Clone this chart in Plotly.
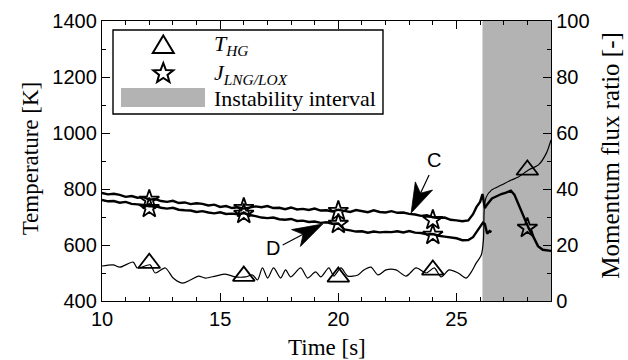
import math
import plotly.graph_objects as go

# ---------------- data ----------------
# Momentum flux ratio, curve C (upper)
t_C = [10.0, 10.25, 10.5, 10.75, 11.0, 11.25, 11.5, 11.75, 12.0, 12.25, 12.5, 12.75,
       13.0, 13.25, 13.5, 13.75, 14.0, 14.25, 14.5, 14.75, 15.0, 15.25, 15.5, 15.75,
       16.0, 16.25, 16.5, 16.75, 17.0, 17.25, 17.5, 17.75, 18.0, 18.25, 18.5, 18.75,
       19.0, 19.25, 19.5, 19.75, 20.0, 20.25, 20.5, 20.75, 21.0, 21.25, 21.5, 21.75,
       22.0, 22.25, 22.5, 22.75, 23.0, 23.25, 23.5, 23.75, 24.0, 24.25, 24.5, 24.75,
       25.0, 25.25, 25.5, 25.7, 25.85, 26.0, 26.1, 26.15, 26.2, 26.3, 26.5, 26.7,
       26.9, 27.1, 27.3, 27.45, 27.6, 27.75, 27.9, 28.05, 28.25, 28.45, 28.65, 28.85, 29.0]
J_C = [38.6, 38.1, 38.3, 37.9, 37.2, 37.5, 36.9, 37.1, 36.2, 36.4, 35.7, 35.4,
       35.8, 35.0, 35.2, 34.6, 34.9, 34.7, 34.1, 34.4, 33.6, 33.9, 33.2, 33.5,
       33.0, 33.3, 33.8, 33.5, 33.9, 33.2, 33.3, 32.8, 33.4, 32.7, 32.9, 32.5,
       33.0, 32.3, 32.4, 32.0, 32.6, 32.2, 31.8, 32.5, 32.0, 31.7, 32.4, 31.8,
       31.6, 32.1, 31.5, 31.6, 31.1, 30.9, 30.4, 30.6, 29.9, 29.6, 29.8, 29.0,
       28.8, 28.5, 28.8, 31.0, 33.6, 35.4, 38.2, 36.0, 33.2, 34.5, 36.6, 37.4,
       38.2, 38.7, 39.4, 38.0, 35.0, 31.5, 28.6, 26.1, 23.0, 19.6, 18.3, 18.0, 17.9]

# Momentum flux ratio, curve D (lower)
t_D = [10.0, 10.25, 10.5, 10.75, 11.0, 11.25, 11.5, 11.75, 12.0, 12.25, 12.5, 12.75,
       13.0, 13.25, 13.5, 13.75, 14.0, 14.25, 14.5, 14.75, 15.0, 15.25, 15.5, 15.75,
       16.0, 16.25, 16.5, 16.75, 17.0, 17.25, 17.5, 17.75, 18.0, 18.25, 18.5, 18.75,
       19.0, 19.25, 19.5, 19.75, 20.0, 20.25, 20.5, 20.75, 21.0, 21.25, 21.5, 21.75,
       22.0, 22.25, 22.5, 22.75, 23.0, 23.25, 23.5, 23.75, 24.0, 24.25, 24.5, 24.75,
       25.0, 25.25, 25.5, 25.7, 25.85, 26.0, 26.12, 26.2, 26.3, 26.4, 26.48]
J_D = [36.1, 35.6, 35.7, 35.1, 35.4, 34.7, 34.5, 34.3, 33.8, 33.9, 33.3, 33.0,
       33.3, 32.6, 32.4, 32.3, 31.8, 32.1, 31.6, 31.3, 31.7, 31.1, 31.2, 31.0,
       31.4, 30.7, 30.3, 29.8, 29.6, 29.8, 29.2, 29.0, 29.3, 28.6, 28.7, 28.2,
       28.4, 27.9, 28.1, 27.6, 27.7, 25.6, 25.2, 24.8, 24.9, 24.4, 24.8, 24.5,
       24.7, 24.6, 24.9, 24.5, 25.0, 24.4, 24.3, 23.8, 23.9, 23.3, 23.0, 22.7,
       22.4, 21.7, 21.8, 22.8, 24.8, 26.5, 28.0, 27.5, 24.0, 25.0, 24.6]

# Hot-gas temperature T_HG [K]
t_T = [10.0, 10.47, 10.76, 11.32, 11.49, 12.04, 12.25, 12.68, 13.01, 13.40, 13.74,
       14.08, 14.37, 14.80, 15.22, 15.65, 16.07, 16.37, 16.58, 16.79, 17.01, 17.26,
       17.56, 17.77, 17.98, 18.41, 18.70, 19.04, 19.26, 19.60, 19.81, 20.11, 20.40,
       20.83, 21.08, 21.38, 21.68, 22.02, 22.44, 22.87, 23.29, 23.72, 24.06, 24.35,
       24.69, 25.07, 25.41, 25.63, 25.84, 26.05, 26.14, 26.18, 26.26, 26.48, 26.90,
       27.32, 27.62, 28.05, 28.47, 28.81, 29.0]
T_HG = [525, 529, 521, 539, 518, 529, 500, 518, 482, 464, 475,
        489, 482, 489, 496, 486, 486, 493, 475, 518, 482, 518,
        482, 511, 486, 518, 482, 504, 486, 518, 489, 518, 489,
        493, 511, 521, 493, 511, 511, 489, 518, 500, 518, 486,
        511, 500, 482, 504, 536, 564, 618, 736, 771, 796, 814,
        832, 843, 868, 886, 929, 975]

# marker samples
tri_t = [12, 16, 20, 24, 28]
tri_T = [535, 489, 486, 511, 868]
starC_t = [12, 16, 20, 24, 28]
starC_J = [36.1, 33.2, 32.1, 28.9, 26.1]
starD_t = [12, 16, 20, 24]
starD_J = [33.2, 31.1, 27.5, 23.6]

instab_start, instab_end = 26.1, 29.0

x_ticks = [10, 15, 20, 25]
yT_ticks = [400, 600, 800, 1000, 1200, 1400]
yJ_ticks = [0, 20, 40, 60, 80, 100]

labels = {
    "x": "Time [s]",
    "yT": "Temperature [K]",
    "yJ": "Momentum flux ratio [-]",
    "leg_T": "<i>T</i><sub><i>HG</i></sub>",
    "leg_J": "<i>J</i><sub><i>LNG/LOX</i></sub>",
    "leg_I": "Instability interval",
}
annot_C = dict(text="C", t=24.06, J=50.4, tip_t=23.08, tip_J=31.4)
annot_D = dict(text="D", t=17.22, J=18.9, tip_t=19.34, tip_J=27.5)

# ---------------- figure ----------------
SANS = "Liberation Sans, Arial, sans-serif"
SERIF = "Liberation Serif, Times New Roman, serif"
GRAY = "#b3b3b3"

fig = go.Figure()
fig.add_trace(go.Scatter(x=t_C, y=J_C, yaxis="y2", mode="lines",
                         line=dict(color="black", width=2.4), hoverinfo="skip"))
fig.add_trace(go.Scatter(x=t_D, y=J_D, yaxis="y2", mode="lines",
                         line=dict(color="black", width=2.4), hoverinfo="skip"))
fig.add_trace(go.Scatter(x=t_T, y=T_HG, mode="lines",
                         line=dict(color="black", width=1.2, shape="spline", smoothing=0.8),
                         hoverinfo="skip"))
fig.add_trace(go.Scatter(x=tri_t, y=tri_T, mode="markers",
                         marker=dict(symbol="triangle-up-open", size=19, color="black",
                                     line=dict(width=1.8, color="black"))))
fig.add_trace(go.Scatter(x=starC_t, y=starC_J, yaxis="y2", mode="markers",
                         marker=dict(symbol="star-open", size=15, color="black",
                                     line=dict(width=1.8, color="black"))))
fig.add_trace(go.Scatter(x=starD_t, y=starD_J, yaxis="y2", mode="markers",
                         marker=dict(symbol="star-open", size=15, color="black",
                                     line=dict(width=1.8, color="black"))))

shapes = []
# instability interval
shapes.append(dict(type="rect", xref="x", yref="paper", x0=instab_start, x1=instab_end,
                   y0=0, y1=1, fillcolor=GRAY, line=dict(width=0), layer="below"))


def arrow_shapes(tip_t, tip_J, tail, notch, b1, b2):
    # pixel offsets (y up) relative to the tip
    line_path = f"M {tail[0]},{tail[1]} L {notch[0]},{notch[1]}"
    head_path = (f"M 0,0 L {b1[0]},{b1[1]} L {notch[0]},{notch[1]} "
                 f"L {b2[0]},{b2[1]} Z")
    common = dict(xref="x", yref="y2", xsizemode="pixel", ysizemode="pixel",
                  xanchor=tip_t, yanchor=tip_J, layer="above")
    return [dict(type="path", path=line_path, line=dict(color="black", width=1.2), **common),
            dict(type="path", path=head_path, fillcolor="black",
                 line=dict(color="black", width=0.8), **common)]


shapes += arrow_shapes(annot_C["tip_t"], annot_C["tip_J"],
                       (18, 38), (9.4, 19.9), (21.4, 23.0), (4.2, 31.2))
shapes += arrow_shapes(annot_D["tip_t"], annot_D["tip_J"],
                       (-40, -21), (-19.6, -10.3), (-22.3, -22.4), (-31.1, -5.6))

# legend box and swatch
shapes.append(dict(type="rect", xref="paper", yref="paper", x0=0.0245, x1=0.6258,
                   y0=0.668, y1=0.968, fillcolor="white",
                   line=dict(color="black", width=1.4), layer="above"))
shapes.append(dict(type="rect", xref="paper", yref="paper", x0=0.0423, x1=0.2294,
                   y0=0.693, y1=0.761, fillcolor=GRAY, line=dict(width=0), layer="above"))


def star_path(ro, ri):
    pts = []
    for k in range(10):
        ang = math.pi / 2 + k * math.pi / 5
        r = ro if k % 2 == 0 else ri
        pts.append((r * math.cos(ang), r * math.sin(ang) - 1.0))
    return "M " + " L ".join(f"{x:.2f},{y:.2f}" for x, y in pts) + " Z"


leg_common = dict(xref="paper", yref="paper", xsizemode="pixel", ysizemode="pixel",
                  xanchor=0.1365, layer="above", line=dict(color="black", width=2))
shapes.append(dict(type="path", path="M 0,8.75 L 10.5,-8.75 L -10.5,-8.75 Z",
                   yanchor=0.917, **leg_common))
shapes.append(dict(type="path", path=star_path(10.5, 4.4), yanchor=0.816, **leg_common))

annotations = [
    dict(text=labels["leg_T"], xref="paper", yref="paper", x=0.245, y=0.915,
         xanchor="left", yanchor="middle", showarrow=False,
         font=dict(family=SERIF, size=22, color="black")),
    dict(text=labels["leg_J"], xref="paper", yref="paper", x=0.245, y=0.812,
         xanchor="left", yanchor="middle", showarrow=False,
         font=dict(family=SERIF, size=22, color="black")),
    dict(text=labels["leg_I"], xref="paper", yref="paper", x=0.245, y=0.724,
         xanchor="left", yanchor="middle", showarrow=False,
         font=dict(family=SERIF, size=22, color="black")),
    dict(text=annot_C["text"], xref="x", yref="y2", x=annot_C["t"], y=annot_C["J"],
         showarrow=False, font=dict(family=SANS, size=20, color="black")),
    dict(text=annot_D["text"], xref="x", yref="y2", x=annot_D["t"], y=annot_D["J"],
         showarrow=False, font=dict(family=SANS, size=20, color="black")),
    # axis titles
    dict(text=labels["x"], xref="paper", yref="paper", x=0.5, y=-0.165,
         xanchor="center", yanchor="middle", showarrow=False,
         font=dict(family=SERIF, size=23, color="black")),
    dict(text=labels["yT"], xref="paper", yref="paper", x=-0.160, y=0.51,
         xanchor="center", yanchor="middle", showarrow=False, textangle=-90,
         font=dict(family=SERIF, size=23, color="black")),
    dict(text=labels["yJ"], xref="paper", yref="paper", x=1.132, y=0.52,
         xanchor="center", yanchor="middle", showarrow=False, textangle=-90,
         font=dict(family=SERIF, size=25, color="black")),
]

axis_common = dict(showgrid=False, zeroline=False, showline=True, linecolor="black",
                   linewidth=1.4, ticks="inside", ticklen=8, tickwidth=1.2,
                   tickcolor="black", automargin=False,
                   tickfont=dict(family=SANS, size=20, color="black"))

fig.update_layout(
    width=628, height=360,
    margin=dict(l=102, r=77, t=21, b=59),
    paper_bgcolor="white", plot_bgcolor="white",
    showlegend=False,
    xaxis=dict(range=[10, 29], tickvals=x_ticks, mirror="ticks",
               minor=dict(dtick=1, ticks="inside", ticklen=4, tickcolor="black", tickwidth=1),
               **axis_common),
    yaxis=dict(range=[400, 1400], tickvals=yT_ticks,
               minor=dict(dtick=100, ticks="inside", ticklen=4, tickcolor="black", tickwidth=1),
               **axis_common),
    yaxis2=dict(range=[0, 100], tickvals=yJ_ticks, overlaying="y", side="right",
                minor=dict(dtick=10, ticks="inside", ticklen=4, tickcolor="black", tickwidth=1),
                **axis_common),
    shapes=shapes,
    annotations=annotations,
)

fig.write_html("out.html")
